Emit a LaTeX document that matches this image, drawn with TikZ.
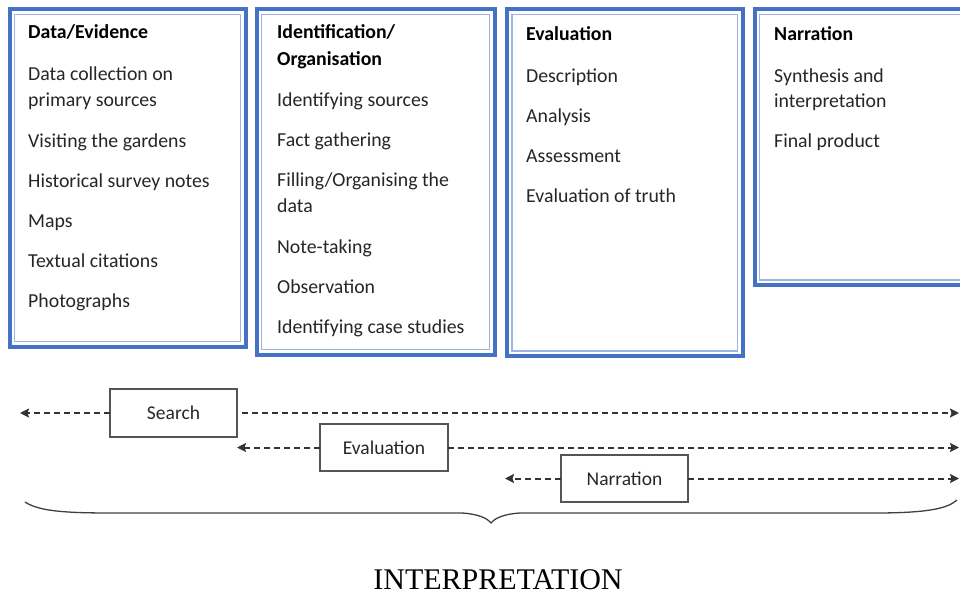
\documentclass[tikz,border=0pt]{standalone}
\usepackage{fontspec}
\setmainfont{Carlito}
\newfontfamily\capfont{Liberation Serif}
\usetikzlibrary{arrows.meta}
\definecolor{boxblue}{HTML}{4472C4}
\definecolor{innerblue}{HTML}{9DB5E3}
\definecolor{txt}{HTML}{262626}
\definecolor{sgray}{HTML}{555555}
\begin{document}
\begin{tikzpicture}[x=1pt,y=-1pt,
  bigbox/.style={draw=boxblue, line width=4pt, outer sep=0pt, inner sep=0pt, fill=white},
  innerline/.style={draw=innerblue, line width=1.6pt},
  item/.style={anchor=base west, inner sep=0pt, text=txt, font=\fontsize{19.8}{23}\selectfont},
  ttl/.style={item, text=black, font=\fontsize{19.8}{23}\selectfont\bfseries},
  smallbox/.style={draw=sgray, line width=1.5pt, outer sep=0pt, inner sep=0pt, text=txt, font=\fontsize{19.5}{23}\selectfont},
  dasharrow/.style={draw=black!80, line width=2pt, dash pattern=on 6pt off 4pt, -{Stealth[length=9pt,width=9pt,inset=1.5pt]}},
  brace/.style={draw=black!75, line width=1.3pt}
]
\useasboundingbox (0,0) rectangle (960,594);

% big boxes
\node[bigbox, minimum width=236pt, minimum height=337pt] (b1) at (127.5,178) {};
\node[bigbox, minimum width=238pt, minimum height=345pt] (b2) at (375.5,182) {};
\node[bigbox, minimum width=235.5pt, minimum height=346.5pt] (b3) at (624.75,182.75) {};
\node[bigbox, minimum width=230.5pt, minimum height=275.5pt] (b4) at (869.75,147.25) {};
\foreach \b in {b1,b2,b3,b4}{
  \draw[innerline] ([shift={(5,5)}]\b.north west) rectangle ([shift={(-5,-5)}]\b.south east);
}

% box 1
\node[ttl] (t1) at (28,39) {Data/Evidence};
\node[item] (i11) at (28,81) {Data collection on};
\node[item] (i11b) at (28,106) {primary sources};
\node[item] (i12) at (28,147) {Visiting the gardens};
\node[item] (i13) at (28,187) {Historical survey notes};
\node[item] (i14) at (28,227) {Maps};
\node[item] (i15) at (28,267) {Textual citations};
\node[item] (i16) at (28,307) {Photographs};

% box 2
\node[ttl] (t2) at (277,39) {Identification/};
\node[ttl] (t2b) at (277,65) {Organisation};
\node[item] (i21) at (277,106) {Identifying sources};
\node[item] (i22) at (277,146) {Fact gathering};
\node[item] (i23) at (277,186) {Filling/Organising the};
\node[item] (i23b) at (277,212) {data};
\node[item] (i24) at (277,253) {Note-taking};
\node[item] (i25) at (277,293) {Observation};
\node[item] (i26) at (277,333) {Identifying case studies};

% box 3
\node[ttl] (t3) at (526,41) {Evaluation};
\node[item] (i31) at (526,82) {Description};
\node[item] (i32) at (526,122) {Analysis};
\node[item] (i33) at (526,162) {Assessment};
\node[item] (i34) at (526,202) {Evaluation of truth};

% box 4
\node[ttl] (t4) at (774,41) {Narration};
\node[item] (i41) at (774,82) {Synthesis and};
\node[item] (i41b) at (774,107) {interpretation};
\node[item] (i42) at (774,147) {Final product};

% small boxes
\node[smallbox, minimum width=127pt, minimum height=48pt] (search) at (173.5,413) {Search};
\node[smallbox, minimum width=128pt, minimum height=47pt] (eval) at (384,447.5) {Evaluation};
\node[smallbox, minimum width=127pt, minimum height=47pt] (narr) at (624.5,478.5) {Narration};

\coordinate (sL) at (20,413);
\coordinate (sR) at (959,413);
\coordinate (eL) at (237,447);
\coordinate (eR) at (959,447);
\coordinate (nL) at (505,478);
\coordinate (nR) at (959,478);

\draw[dasharrow] (search.west) -- (search.west -| sL);
\draw[dasharrow] ([xshift=5pt]search.east) -- (search.east -| sR);
\draw[dasharrow] (eval.west) -- (eval.west -| eL);
\draw[dasharrow] (eval.east) -- (eval.east -| eR);
\draw[dasharrow] (narr.west) -- (narr.west -| nL);
\draw[dasharrow] (narr.east) -- (narr.east -| nR);

% brace
\coordinate (brL) at (25,502);
\coordinate (brT) at (491,523);
\coordinate (brR) at (957,500);
\draw[brace] (brL) .. controls (40,512) and (70,513) .. (115,513) -- (462,513)
  .. controls (478,514) and (487,518) .. (brT)
  .. controls (495,518) and (504,514) .. (520,513) -- (875,513)
  .. controls (930,513) and (948,508) .. (brR);

\node[inner sep=0pt, anchor=base, font=\capfont\fontsize{30}{32}\selectfont, text=black] (interp) at (498,589) {INTERPRETATION};
\end{tikzpicture}
\end{document}
